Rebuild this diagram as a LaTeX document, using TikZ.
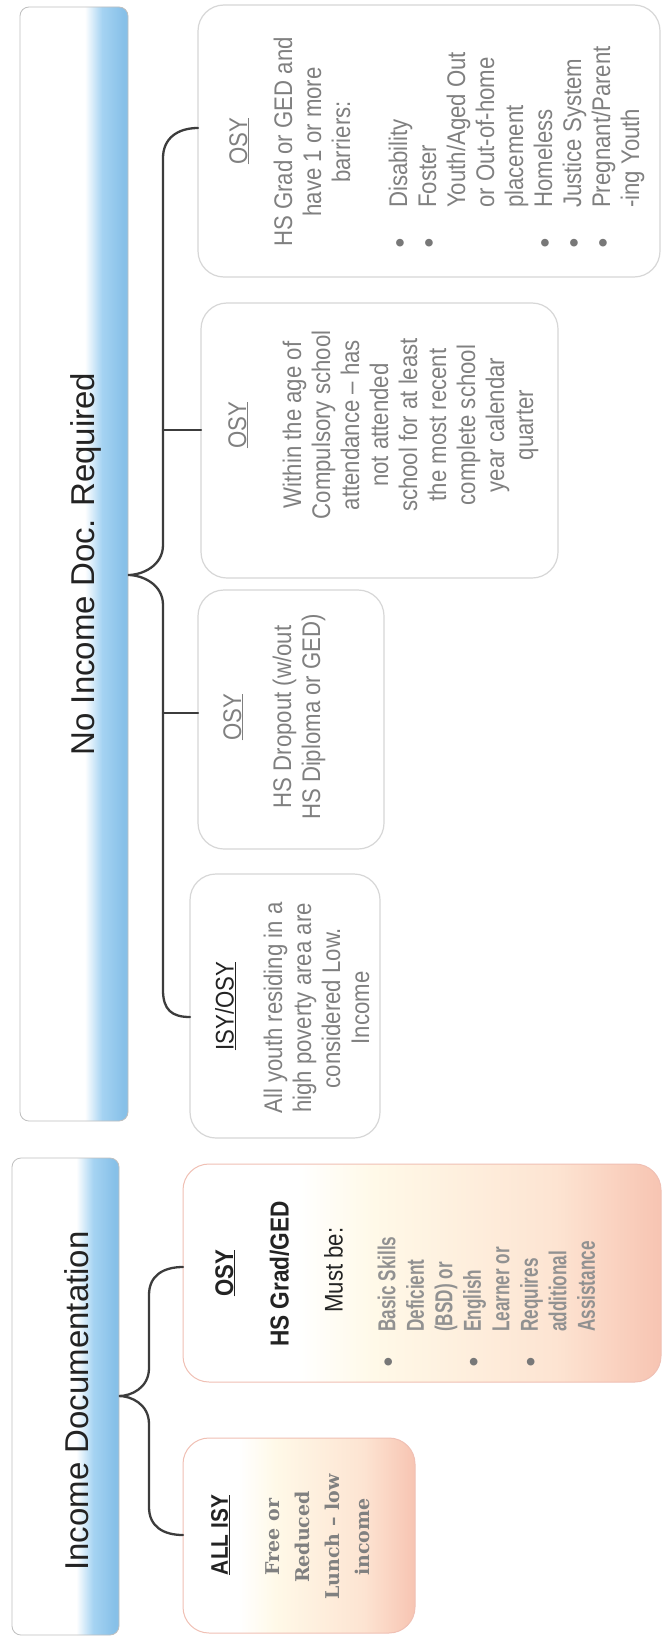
\documentclass[tikz,border=0pt]{standalone}
\usepackage{fontspec}
\setmainfont{Liberation Sans}
\newfontfamily\nar[FakeStretch=0.87]{Liberation Sans}
\newfontfamily\narc[FakeStretch=0.70]{Liberation Sans}
\newfontfamily\slab{DejaVu Serif}
\newfontfamily\djsans{DejaVu Sans}
\usetikzlibrary{calc}

\definecolor{txtgray}{RGB}{128,128,128}
\definecolor{ltgray}{RGB}{145,145,145}
\definecolor{darktxt}{RGB}{35,35,35}
\definecolor{barblue}{RGB}{165,211,242}
\definecolor{barblue2}{RGB}{135,192,232}
\definecolor{cream}{RGB}{255,249,232}
\definecolor{lpeach}{RGB}{253,228,210}
\definecolor{salmon}{RGB}{247,196,178}
\definecolor{peachedge}{RGB}{240,192,180}
\definecolor{boxedge}{RGB}{215,215,215}
\definecolor{bracecol}{RGB}{60,60,60}
\definecolor{bulcol}{RGB}{120,120,120}

\pgfdeclarehorizontalshading{bluebar}{100bp}{color(0bp)=(white); color(25bp)=(white); color(55bp)=(white); color(63bp)=(barblue); color(73bp)=(barblue2); color(75bp)=(barblue2); color(100bp)=(barblue2)}
\pgfdeclarehorizontalshading{peachbox}{100bp}{color(0bp)=(white); color(25bp)=(white); color(37bp)=(white); color(45bp)=(cream); color(64bp)=(lpeach); color(75bp)=(salmon); color(100bp)=(salmon)}

\newcommand\bulsym{\raisebox{4.5pt}{\color{bulcol}\djsans\fontsize{10}{10}\selectfont ●}}
\newcommand\bul{\makebox[0pt][c]{\bulsym}\hspace*{35pt}}
\newcommand\nob{\hspace*{35pt}}
\newcommand\bulB{\makebox[0pt][c]{\bulsym}\hspace*{30pt}}
\newcommand\nobB{\hspace*{30pt}}

\begin{document}
\begin{tikzpicture}[x=1pt,y=-1pt,
  bar/.style={draw=black!25, line width=0.8pt, rounded corners=9pt, shade, shading=bluebar, inner sep=0pt, outer sep=0pt},
  wbox/.style={draw=boxedge, line width=1.2pt, fill=white, rounded corners=26pt, inner sep=0pt, outer sep=0pt},
  pbox/.style={draw=peachedge, line width=1pt, shade, shading=peachbox, rounded corners=26pt, inner sep=0pt, outer sep=0pt},
  bartxt/.style={rotate=90, inner sep=0pt, font=\fontsize{33}{38}\selectfont, text=darktxt},
  txtc/.style={rotate=90, inner sep=0pt, anchor=north, align=center, font=\nar\fontsize{25.5}{29}\selectfont, text=txtgray},
  txtl/.style={rotate=90, inner sep=0pt, anchor=north west, align=left, font=\nar\fontsize{25.5}{29}\selectfont, text=txtgray},
  brace/.style={draw=bracecol, line width=2.3pt, line cap=round}
]
\useasboundingbox (0,0) rectangle (669,1640);
\fill[white] (0,0) rectangle (669,1640);

% header bars
\node[bar, minimum width=108pt, minimum height=1114pt] (hdrNo) at (74,564) {};
\node[bar, minimum width=107pt, minimum height=477pt] (hdrInc) at (65.5,1396.5) {};
\node[bartxt] (hdrNoT) at (86,564) {No Income Doc. Required};
\node[bartxt] (hdrIncT) at (77,1401) {Income Documentation};

% boxes
\node[wbox, minimum width=462pt, minimum height=272pt] (b4) at (429,141) {};
\node[wbox, minimum width=357pt, minimum height=275pt] (b3) at (379.5,440.5) {};
\node[wbox, minimum width=186pt, minimum height=259pt] (b2) at (291,719.5) {};
\node[wbox, minimum width=190pt, minimum height=264pt] (b1) at (285,1006) {};
\node[pbox, minimum width=478pt, minimum height=218pt] (b6) at (422,1273) {};
\node[pbox, minimum width=232pt, minimum height=195pt] (b5) at (299,1535.5) {};

% braces
\coordinate (spineNo) at (163,0);
\draw[brace] (b4.west |- 0,128) .. controls (178,128) and (163,138) .. (163,158)
  -- (163,545) .. controls (163,566) and (142,575) .. (hdrNo.east |- 0,575)
  .. controls (142,575) and (163,584) .. (163,605)
  -- (163,990) .. controls (163,1010) and (172,1017) .. (b1.west |- 0,1017);
\draw[brace] (spineNo |- 0,430) -- (b3.west |- 0,430);
\draw[brace] (spineNo |- 0,713) -- (b2.west |- 0,713);

\draw[brace] (b6.west |- 0,1267) .. controls (164,1267) and (149,1275) .. (149,1295)
  -- (149,1368) .. controls (149,1388) and (131,1396) .. (hdrInc.east |- 0,1396)
  .. controls (131,1396) and (149,1404) .. (149,1424)
  -- (149,1507) .. controls (149,1527) and (164,1535) .. (b5.west |- 0,1535);

% box 4
\node[txtc] (t4a) at (229,141) {\underline{OSY}};
\node[txtc] (t4b) at (273.5,142) {HS Grad or GED and\\have 1 or more\\barriers:};
\node[txtl] (l4) at (388.5,243) {\bul Disability\\\bul Foster\\\nob Youth/Aged Out\\\nob or Out-of-home\\\nob placement\\\bul Homeless\\\bul Justice System\\\bul Pregnant/Parent\\\nob -ing Youth};

% box 3
\node[txtc] (t3a) at (228,425) {\underline{OSY}};
\node[txtc] (t3b) at (282.5,425) {Within the age of\\Compulsory school\\attendance – has\\not attended\\school for at least\\the most recent\\complete school\\year calendar\\quarter};

% box 2
\node[txtc] (t2a) at (223,717) {\underline{OSY}};
\node[txtc] (t2b) at (272.5,717) {HS Dropout (w/out\\HS Diploma or GED)};

% box 1
\node[txtc, text=darktxt] (t1a) at (215,1006) {\underline{ISY/OSY}};
\node[txtc] (t1b) at (263.5,1008) {All youth residing in a\\high poverty area are\\considered Low.\\Income};

% box 6
\node[txtc, text=darktxt, font=\nar\bfseries\fontsize{25.5}{29}\selectfont] (t6a) at (215,1273) {\underline{OSY}};
\node[txtc, text=darktxt, font=\nar\bfseries\fontsize{26}{29}\selectfont] (t6b) at (269.5,1274) {HS Grad/GED};
\node[txtc, text=darktxt] (t6c) at (324,1270) {Must be:};
\node[txtl, text=ltgray, font=\narc\bfseries\fontsize{24.5}{28.5}\selectfont] (l6) at (377.5,1362) {\bulB Basic Skills\\\nobB Deficient\\\nobB (BSD) or\\\bulB English\\\nobB Learner or\\\bulB Requires\\\nobB additional\\\nobB Assistance};

% box 5
\node[txtc, text=darktxt, font=\nar\bfseries\fontsize{24}{29}\selectfont] (t5a) at (211,1535) {\underline{ALL ISY}};
\node[txtc, text=txtgray, font=\slab\bfseries\fontsize{19}{30}\selectfont] (t5b) at (265,1537) {Free or\\Reduced\\Lunch – low\\income};
\end{tikzpicture}
\end{document}
